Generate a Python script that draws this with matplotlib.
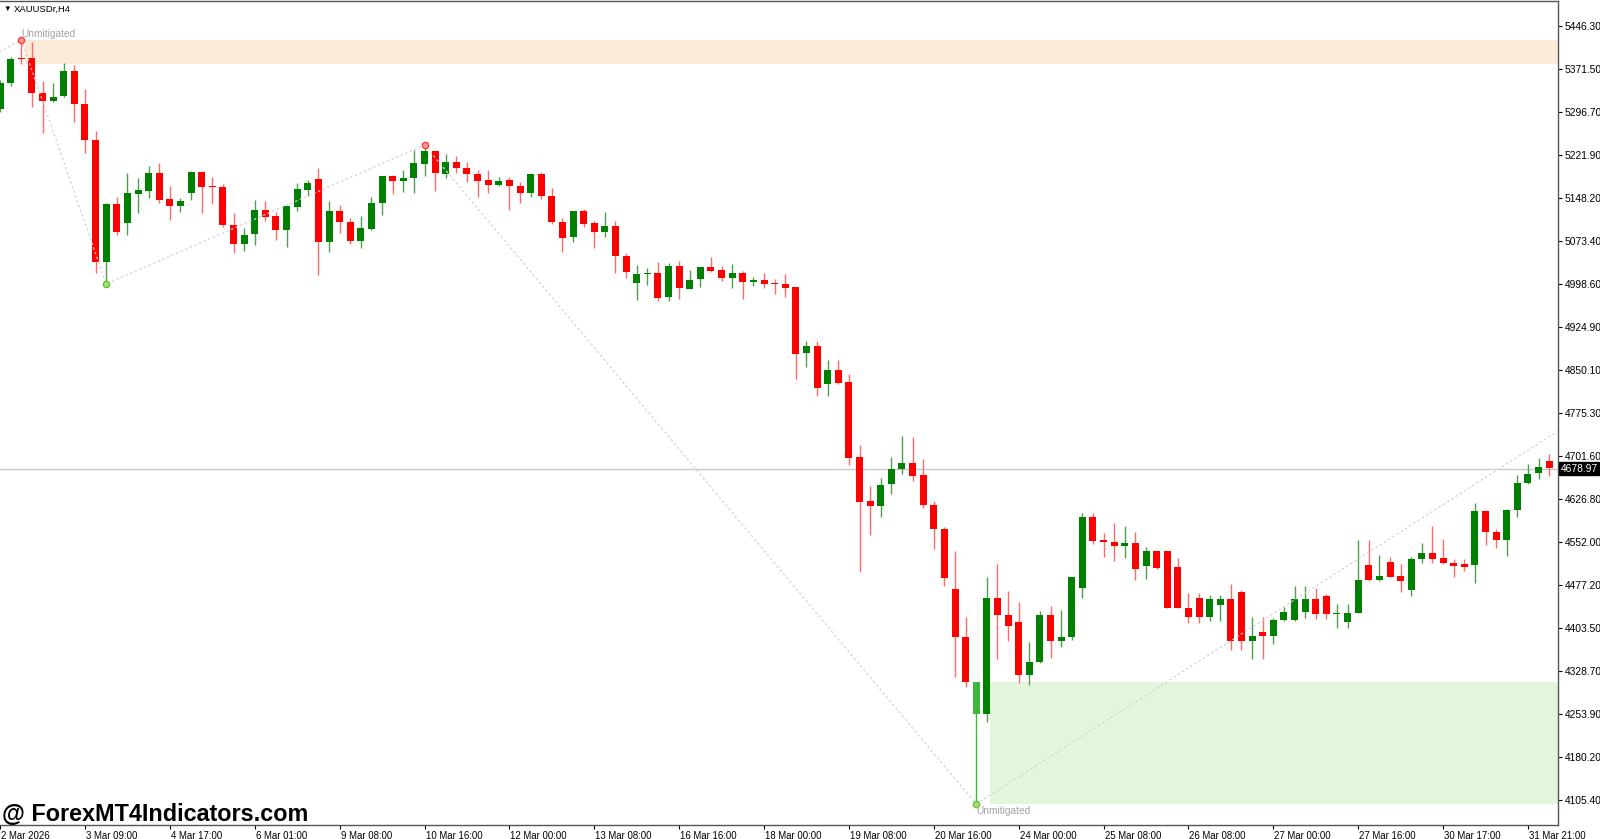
import numpy as np
import matplotlib
matplotlib.use("Agg")
import matplotlib.pyplot as plt
import matplotlib.transforms as mtransforms

# -------------------- Data (XAUUSDr, H4) --------------------

opens = [5301.9, 5346.4, 5390.2, 5390.7, 5330.1, 5315.7, 5324.4, 5368.2, 5310.0, 5247.7,
         5037.0, 5137.4, 5105.0, 5155.2, 5160.4, 5190.6, 5145.6, 5134.5, 5155.9, 5193.3,
         5168.6, 5167.4, 5101.1, 5068.7, 5085.0, 5127.0, 5116.6, 5092.4, 5132.7, 5161.7,
         5180.7, 5071.1, 5125.8, 5106.3, 5073.9, 5094.7, 5139.7, 5185.9, 5177.8, 5181.9,
         5206.7, 5229.2, 5188.8, 5209.6, 5200.3, 5188.8, 5179.0, 5170.3, 5179.0, 5169.1,
         5155.9, 5189.4, 5151.8, 5106.3, 5080.8, 5125.8, 5104.0, 5089.5, 5099.3, 5047.4,
         5000.1, 5016.6, 5017.4, 4976.4, 5030.6, 4990.8, 5008.1, 5028.3, 5022.6, 5009.3,
         5018.0, 5002.4, 5006.4, 5000.1, 4998.4, 4993.2, 4878.9, 4891.6, 4825.8, 4850.5,
         4828.7, 4698.9, 4623.7, 4614.6, 4652.6, 4678.1, 4688.5, 4668.2, 4616.3, 4574.7,
         4470.9, 4388.3, 4253.9, 4253.9, 4454.8, 4425.3, 4413.2, 4322.0, 4345.0, 4425.3,
         4380.8, 4388.3, 4472.1, 4596.0, 4555.7, 4552.8, 4545.8, 4551.0, 4510.2, 4536.1,
         4536.1, 4508.4, 4438.5, 4455.8, 4422.9, 4442.6, 4454.1, 4465.1, 4380.8, 4395.9,
         4390.0, 4417.2, 4417.2, 4431.0, 4453.6, 4458.7, 4427.6, 4413.7, 4429.8, 4511.9,
         4486.4, 4517.6, 4493.4, 4469.1, 4522.3, 4533.7, 4524.0, 4515.4, 4513.6, 4512.4,
         4605.9, 4569.0, 4555.7, 4607.6, 4653.9, 4671.2, 4693.0]

highs = [5352.1, 5392.4, 5421.4, 5418.4, 5350.4, 5347.4, 5381.0, 5377.5, 5336.5, 5264.3,
         5139.7, 5150.1, 5191.6, 5181.9, 5203.7, 5207.9, 5168.6, 5147.8, 5194.5, 5195.1,
         5183.6, 5172.0, 5121.3, 5096.4, 5144.3, 5142.6, 5124.1, 5134.0, 5173.3, 5179.0,
         5199.2, 5142.6, 5135.2, 5112.7, 5116.6, 5149.0, 5185.9, 5187.6, 5196.3, 5230.9,
         5239.6, 5230.0, 5224.0, 5221.0, 5210.6, 5196.3, 5196.3, 5183.6, 5183.6, 5176.0,
         5191.6, 5192.3, 5164.6, 5112.7, 5125.8, 5128.8, 5108.5, 5123.0, 5108.5, 5052.1,
         5031.8, 5027.1, 5036.5, 5034.8, 5038.7, 5023.1, 5028.3, 5046.2, 5030.1, 5033.0,
         5021.4, 5010.5, 5017.4, 5007.6, 5016.2, 4993.7, 4900.2, 4900.2, 4867.3, 4867.3,
         4842.6, 4720.2, 4649.7, 4663.6, 4698.9, 4735.8, 4734.5, 4695.9, 4623.2, 4578.7,
         4536.7, 4422.9, 4309.3, 4492.2, 4513.6, 4467.4, 4447.9, 4379.1, 4432.8, 4442.0,
         4434.5, 4491.6, 4601.9, 4601.9, 4568.3, 4585.6, 4579.9, 4569.0, 4544.1, 4536.6,
         4536.6, 4524.0, 4463.4, 4463.4, 4460.5, 4460.5, 4480.1, 4469.1, 4421.9, 4421.9,
         4420.1, 4440.2, 4475.5, 4475.5, 4473.1, 4461.7, 4444.9, 4444.9, 4555.7, 4555.7,
         4529.7, 4526.8, 4514.1, 4526.8, 4551.0, 4580.5, 4557.4, 4523.3, 4523.3, 4620.3,
         4607.6, 4575.3, 4608.8, 4668.2, 4687.3, 4697.1, 4704.1]

lows = [5296.7, 5341.7, 5379.3, 5305.9, 5260.9, 5314.5, 5323.2, 5279.9, 5226.2, 5017.4,
        4998.9, 5083.7, 5083.7, 5121.3, 5147.3, 5138.6, 5109.7, 5124.1, 5144.3, 5121.3,
        5137.4, 5098.1, 5052.1, 5056.0, 5066.4, 5108.5, 5075.1, 5063.0, 5125.8, 5151.3,
        5014.5, 5054.8, 5087.7, 5067.6, 5060.7, 5092.4, 5118.4, 5154.7, 5158.7, 5157.0,
        5185.9, 5160.4, 5183.0, 5190.6, 5176.0, 5150.1, 5155.9, 5168.6, 5127.0, 5138.6,
        5149.0, 5146.1, 5102.3, 5054.8, 5072.1, 5098.1, 5060.7, 5080.8, 5018.5, 5009.8,
        4971.2, 4997.2, 4970.3, 4970.3, 4972.9, 4989.7, 4994.2, 5019.2, 5004.6, 4992.5,
        4972.9, 4996.0, 4991.5, 4981.6, 4976.9, 4833.9, 4855.7, 4805.5, 4805.0, 4825.8,
        4685.5, 4500.3, 4564.4, 4596.0, 4634.8, 4669.5, 4658.4, 4611.6, 4540.1, 4476.6,
        4318.0, 4301.7, 4098.6, 4240.1, 4349.2, 4381.4, 4307.6, 4304.7, 4342.2, 4350.9,
        4371.0, 4382.6, 4454.8, 4548.8, 4526.8, 4519.9, 4524.0, 4486.4, 4488.2, 4505.5,
        4437.5, 4437.5, 4411.5, 4411.5, 4416.0, 4416.0, 4365.3, 4365.3, 4350.2, 4350.2,
        4375.1, 4416.0, 4416.0, 4421.2, 4418.9, 4418.9, 4403.9, 4403.9, 4429.3, 4484.7,
        4485.6, 4491.1, 4466.2, 4458.7, 4515.4, 4515.4, 4514.1, 4492.2, 4502.0, 4481.8,
        4546.5, 4542.4, 4528.5, 4595.0, 4653.5, 4661.8, 4666.5]

closes = [5346.4, 5387.9, 5389.1, 5329.1, 5316.3, 5322.1, 5368.2, 5310.0, 5248.2, 5037.0,
          5137.4, 5088.4, 5157.0, 5161.7, 5190.6, 5144.3, 5134.5, 5142.1, 5193.3, 5167.4,
          5167.4, 5100.5, 5068.7, 5083.2, 5127.0, 5115.4, 5092.4, 5134.0, 5162.9, 5173.3,
          5071.1, 5125.3, 5105.7, 5073.9, 5095.3, 5139.7, 5185.9, 5177.8, 5182.9, 5207.9,
          5229.2, 5191.6, 5209.6, 5200.3, 5188.8, 5177.8, 5170.3, 5177.2, 5168.6, 5155.9,
          5188.8, 5151.3, 5105.7, 5079.1, 5125.8, 5103.3, 5089.5, 5099.3, 5047.4, 5019.7,
          5016.2, 5017.4, 4975.2, 5030.6, 4992.5, 5005.3, 5028.3, 5021.9, 5009.3, 5018.0,
          5002.4, 5006.4, 4998.9, 4998.4, 4992.5, 4877.7, 4891.6, 4818.3, 4850.5, 4827.0,
          4698.2, 4621.0, 4614.6, 4650.9, 4678.6, 4688.5, 4667.0, 4616.3, 4574.7, 4489.4,
          4388.3, 4309.3, 4309.3, 4454.8, 4425.3, 4406.8, 4322.0, 4345.0, 4425.3, 4380.8,
          4388.3, 4491.1, 4596.0, 4554.5, 4552.8, 4545.8, 4550.5, 4505.5, 4536.1, 4507.7,
          4438.0, 4438.0, 4422.9, 4422.9, 4454.1, 4454.1, 4380.8, 4380.8, 4390.0, 4390.0,
          4417.7, 4431.0, 4453.6, 4453.6, 4427.1, 4427.1, 4429.8, 4429.8, 4486.4, 4486.4,
          4493.4, 4492.2, 4484.2, 4522.3, 4533.7, 4523.3, 4515.4, 4510.7, 4509.5, 4605.9,
          4569.0, 4555.7, 4607.6, 4653.9, 4669.4, 4682.1, 4681.0]

current_price = 4678.97

# swing points of the zigzag (bar index), highs first then lows
swing_high_bars = [2, 40]
swing_low_bars = [10, 92]
zigzag_bars = [-3, 2, 10, 40, 92, 147]
zigzag_lead_price = 5371.0     # leg coming in from the left, off chart
zigzag_tail_price = 4746.5     # current leg, runs off the right edge

# unmitigated zones: (anchor bar, top, bottom)
supply_zone = (2, 5421.4, 5379.3)
demand_zone = (93, 4309.3, 4098.6)
highlight_bar = 92

price_ticks = [5446.30, 5371.50, 5296.70, 5221.90, 5148.20, 5073.40, 4998.60,
               4924.90, 4850.10, 4775.30, 4701.60, 4626.80, 4552.00, 4477.20,
               4403.50, 4328.70, 4253.90, 4180.20, 4105.40]

time_labels = ['2 Mar 2026', '3 Mar 09:00', '4 Mar 17:00', '6 Mar 01:00', '9 Mar 08:00',
               '10 Mar 16:00', '12 Mar 00:00', '13 Mar 08:00', '16 Mar 16:00',
               '18 Mar 00:00', '19 Mar 08:00', '20 Mar 16:00', '24 Mar 00:00',
               '25 Mar 08:00', '26 Mar 08:00', '27 Mar 00:00', '27 Mar 16:00',
               '30 Mar 17:00', '31 Mar 21:00']
bars_per_label = 8

# -------------------- Style --------------------

FONT = ['Liberation Sans', 'DejaVu Sans']
plt.rcParams['font.family'] = FONT

bull_color = '#008000'
bear_color = '#ff0000'
bull_wick = '#4f9f4f'
bear_wick = '#ff6a6a'
highlight_color = '#3db83d'
supply_color = '#fdebd9'
demand_color = '#e2f6dc'
zigzag_color = '#d4d4d4'
body_width = 0.66

W, H = 1600, 839
fig = plt.figure(figsize=(W / 100, H / 100), dpi=100)
ax = fig.add_axes([0, 14 / H, 1558 / W, 824 / H])

o = np.array(opens)
h = np.array(highs)
l = np.array(lows)
c = np.array(closes)
idx = np.arange(len(o))
up = c >= o

# -------------------- Zones --------------------

x_right = 160
for (anchor, top, bot), col in [(supply_zone, supply_color), (demand_zone, demand_color)]:
    ax.fill_between([anchor + body_width / 2, x_right], bot, top, color=col, lw=0, zorder=1)

ax.axhline(current_price, color='#c9c9c9', lw=1, zorder=1.5)

# -------------------- Candles --------------------

wick_cols = np.where(up, bull_wick, bear_wick)
body_cols = np.where(up, bull_color, bear_color).astype(object)
body_cols[highlight_bar] = highlight_color
wick_cols = wick_cols.astype(object)
wick_cols[highlight_bar] = highlight_color

ax.vlines(idx, l, h, colors=list(wick_cols), lw=1.0, zorder=2)
bottoms = np.minimum(o, c)
heights = np.maximum(np.abs(c - o), 1.3)
ax.bar(idx, heights, bottom=bottoms, width=body_width, color=list(body_cols),
       edgecolor='none', zorder=3)

# -------------------- Zigzag --------------------

zz_prices = [zigzag_lead_price]
for b in zigzag_bars[1:-1]:
    zz_prices.append(h[b] if b in swing_high_bars else l[b])
zz_prices.append(zigzag_tail_price)
ax.plot(zigzag_bars, zz_prices, color=zigzag_color, lw=0.9, ls=(0, (2, 2)), zorder=4)

ax.plot(swing_high_bars, h[swing_high_bars], 'o', ms=4.5, mfc='#ff9a9a', mec='#ff3b3b',
        mew=1.0, zorder=5)
ax.plot(swing_low_bars, l[swing_low_bars], 'o', ms=4.5, mfc='#a6e07a', mec='#66c52e',
        mew=1.0, zorder=5)

# zone labels
ax.annotate('Unmitigated', (supply_zone[0], supply_zone[1]), xytext=(0, 0.5),
            textcoords='offset points', ha='left', va='bottom', color='#a3a3a3',
            fontsize=7.3, zorder=6)
ax.annotate('Unmitigated', (highlight_bar, demand_zone[2]), xytext=(0, -1.5),
            textcoords='offset points', ha='left', va='top', color='#a3a3a3',
            fontsize=7.3, zorder=6)

# -------------------- Axes --------------------

ax.set_xlim(-0.01, 146.83)
ax.set_ylim(4062.3, 5488.9)

for side in ['left']:
    ax.spines[side].set_visible(False)
for side in ['top', 'right', 'bottom']:
    ax.spines[side].set_color('#555555')
    ax.spines[side].set_linewidth(1)

ax.yaxis.tick_right()
ax.set_yticks(price_ticks)
ax.set_yticklabels([f'{p:.2f}' for p in price_ticks])
ax.tick_params(axis='y', length=3, pad=2, labelsize=7.4, colors='black', width=0.8)

tick_pos = [i * bars_per_label for i in range(len(time_labels))]
ax.set_xticks(tick_pos)
ax.set_xticklabels(time_labels)
ax.tick_params(axis='x', length=3, pad=1.5, labelsize=6.9, colors='black', width=0.8)
shift = mtransforms.ScaledTranslation(1 / 100, 0, fig.dpi_scale_trans)
for lbl in ax.get_xticklabels():
    lbl.set_horizontalalignment('left')
    lbl.set_transform(lbl.get_transform() + shift)

# current price tag
tag_tr = mtransforms.blended_transform_factory(ax.transAxes, ax.transData)
ax.text(1.0016, current_price, f'{current_price:.2f}', transform=tag_tr, ha='left',
        va='center', fontsize=7.4, color='white', zorder=10, clip_on=False,
        bbox=dict(boxstyle='square,pad=0.15', facecolor='black', edgecolor='black'))

# -------------------- Header / watermark --------------------

fig.text(3 / W, 1 - 9.5 / H, '\u25bc', fontsize=5.5, va='center', ha='left', color='black')
fig.text(14 / W, 1 - 9.5 / H, 'XAUUSDr,H4', fontsize=6.8, va='center', ha='left',
         color='black')
fig.text(2 / W, (H - 821) / H, '@ ForexMT4Indicators.com', fontsize=16.8,
         fontweight='bold', va='baseline', ha='left', color='black', zorder=20)

fig.savefig('out.png', dpi=100)
